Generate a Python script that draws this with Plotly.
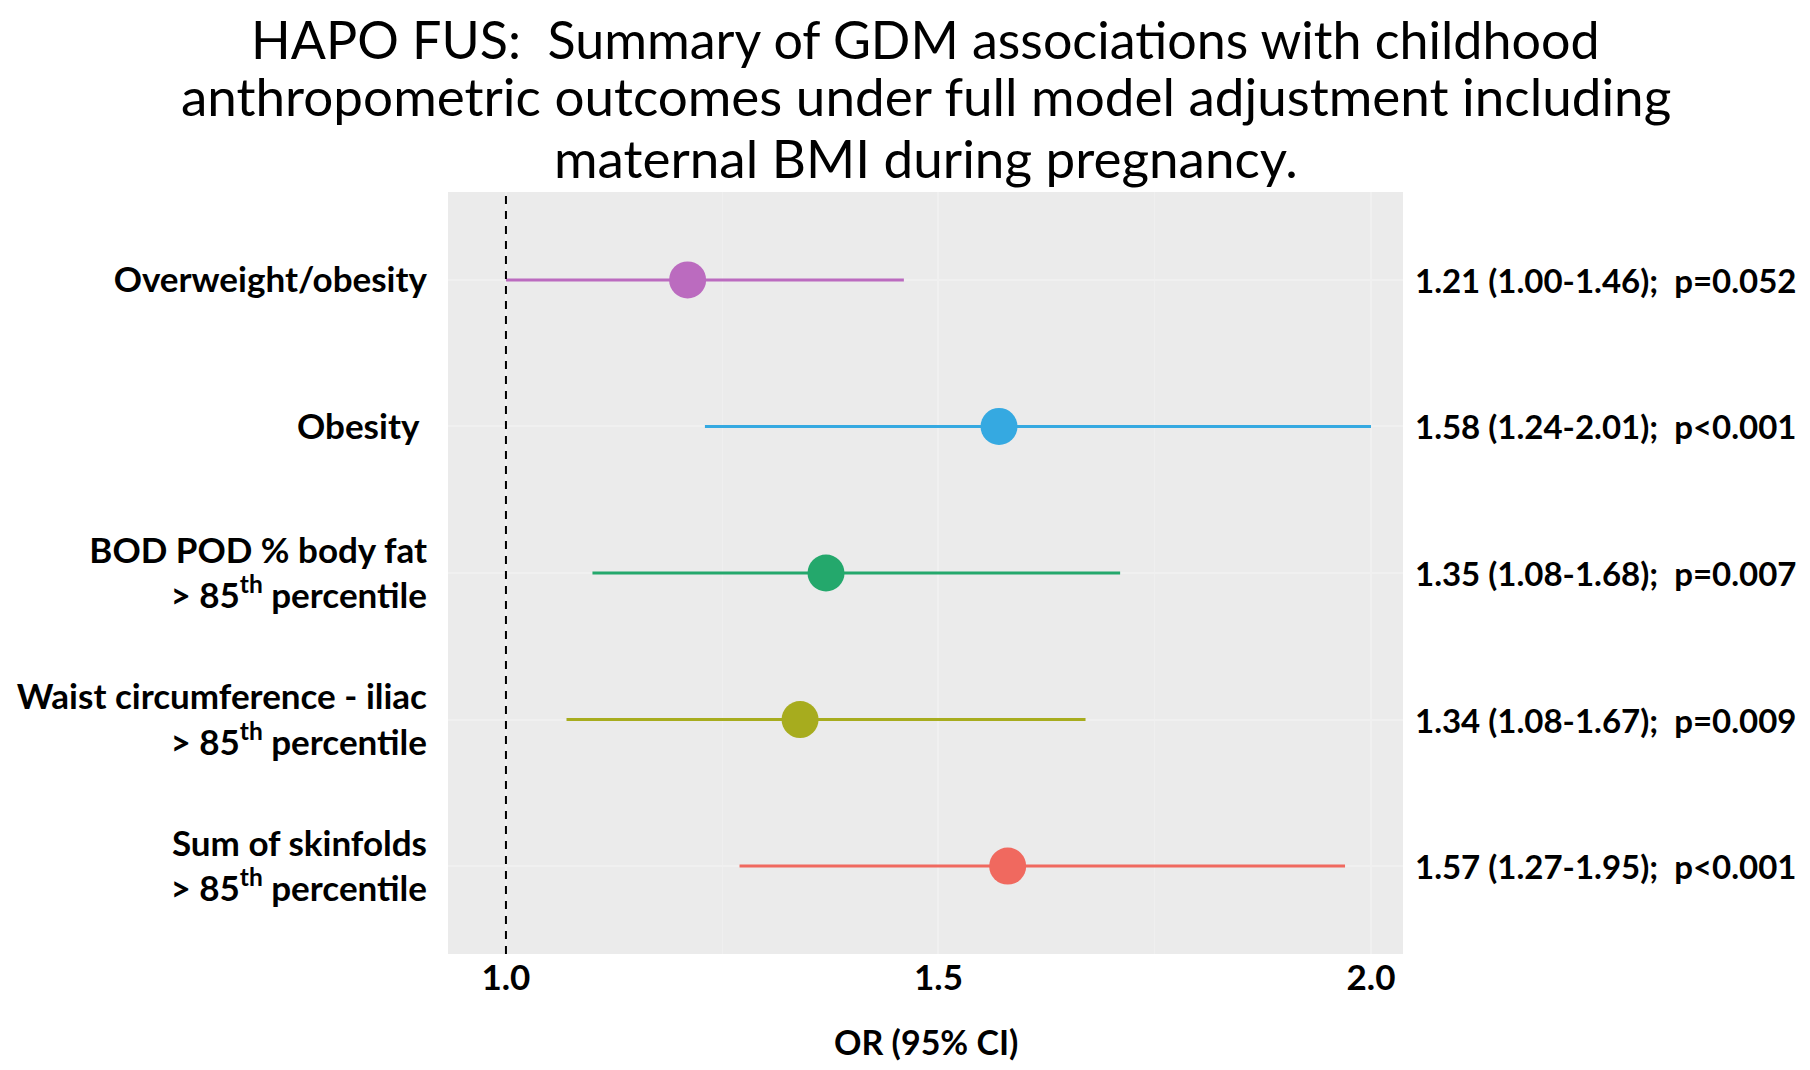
import plotly.graph_objects as go

# ---- data ----
outcomes = [
    "Overweight/obesity",
    "Obesity ",
    "BOD POD % body fat<br>> 85<sup>th</sup> percentile",
    "Waist circumference - iliac<br>> 85<sup>th</sup> percentile",
    "Sum of skinfolds<br>> 85<sup>th</sup> percentile",
]
odds_ratio = [1.21, 1.57, 1.37, 1.34, 1.58]
ci_lower = [1.00, 1.23, 1.10, 1.07, 1.27]
ci_upper = [1.46, 2.00, 1.71, 1.67, 1.97]
result_labels = [
    "1.21 (1.00-1.46);  p=0.052",
    "1.58 (1.24-2.01);  p<0.001",
    "1.35 (1.08-1.68);  p=0.007",
    "1.34 (1.08-1.67);  p=0.009",
    "1.57 (1.27-1.95);  p<0.001",
]
colors = ["#BB6BBF", "#35A9E1", "#24A86C", "#A7AC1E", "#F0695F"]
null_value = 1.0
x_ticks = [1.0, 1.5, 2.0]
x_tick_text = ["1.0", "1.5", "2.0"]
x_title = "OR (95% CI)"
title_lines = [
    "HAPO FUS:  Summary of GDM associations with childhood",
    "anthropometric outcomes under full model adjustment including",
    "maternal BMI during pregnancy.",
]
title_line_y = [1.2005, 1.126, 1.045]
title_line_size = [52, 53, 53]

FONT = "Lato"

fig = go.Figure()

for name, orv, lo, hi, col in zip(outcomes, odds_ratio, ci_lower, ci_upper, colors):
    fig.add_trace(go.Scatter(
        x=[lo, hi], y=[name, name], mode="lines",
        line=dict(color=col, width=3), showlegend=False, hoverinfo="skip"))
    fig.add_trace(go.Scatter(
        x=[orv], y=[name], mode="markers",
        marker=dict(color=col, size=37, line=dict(width=0)), showlegend=False))

fig.add_vline(x=null_value, line=dict(color="black", width=2, dash="8px,7px"), layer="above")

for name, lab in zip(outcomes, result_labels):
    fig.add_annotation(x=1.01, xref="x domain", y=name, yref="y", text=lab,
                       showarrow=False, xanchor="left", yanchor="middle",
                       font=dict(family=FONT, size=33, color="black", weight="bold"))

for line, ty, fs in zip(title_lines, title_line_y, title_line_size):
    fig.add_annotation(x=0.5, xref="paper", y=ty, yref="paper", text=line,
                       showarrow=False, xanchor="center", yanchor="middle",
                       font=dict(family=FONT, size=fs, color="black"))

fig.add_annotation(x=0.5, xref="paper", y=-0.1142, yref="paper", text=x_title,
                   showarrow=False, xanchor="center", yanchor="middle",
                   font=dict(family=FONT, size=34, color="black", weight="bold"))

fig.update_layout(
    width=1794, height=1054,
    paper_bgcolor="white", plot_bgcolor="#EBEBEB",
    margin=dict(l=440, r=399, t=184, b=108, autoexpand=False),
    xaxis=dict(
        range=[0.933, 2.037], tickvals=x_ticks, ticktext=x_tick_text,
        showgrid=True, gridcolor="#F0F0F0", gridwidth=1.5,
        minor=dict(dtick=0.25, showgrid=True, gridcolor="#EFEFEF", gridwidth=1),
        zeroline=False, showline=False, ticks="", automargin=False,
        ticklabelstandoff=0,
        tickfont=dict(family=FONT, size=35, color="black", weight="bold")),
    yaxis=dict(
        categoryorder="array", categoryarray=outcomes, range=[4.6, -0.6],
        showgrid=True, gridcolor="#F0F0F0", gridwidth=1.5, automargin=False,
        zeroline=False, showline=False, ticks="", ticklabelstandoff=20,
        tickfont=dict(family=FONT, size=35, color="black", weight="bold")),
)

fig.write_html("out.html")
